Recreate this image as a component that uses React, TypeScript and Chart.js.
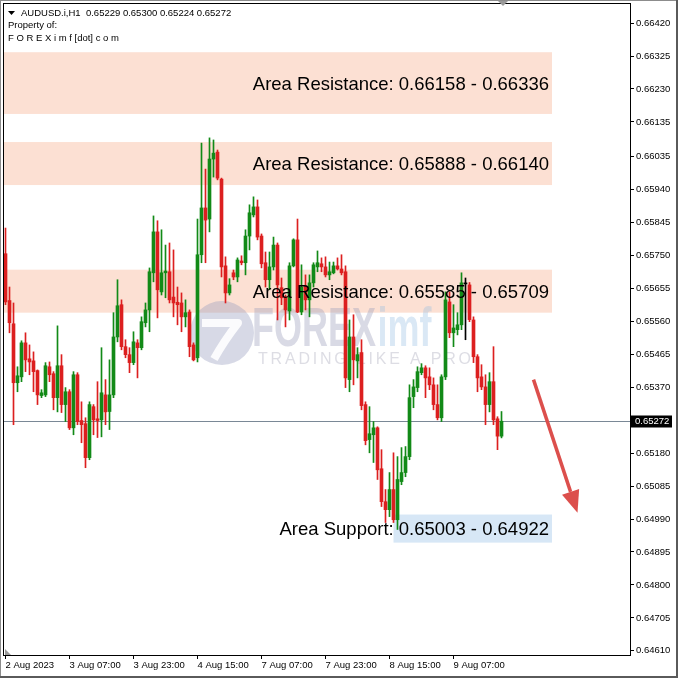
import React, { useEffect, useRef } from "react";
import { Chart, registerables } from "chart.js";

Chart.register(...registerables);

// ---- data (AUDUSD.i, H1) ----
const opens = [
  0.65755, 0.65620, 0.65553, 0.65383, 0.65400, 0.65498, 0.65452, 0.65446, 0.65418, 0.65346,
  0.65348, 0.65429, 0.65409, 0.65340, 0.65432, 0.65320, 0.65357, 0.65253, 0.65406, 0.65274,
  0.65265, 0.65167, 0.65314, 0.65279, 0.65276, 0.65348, 0.65300, 0.65348, 0.65515, 0.65608,
  0.65487, 0.65464, 0.65441, 0.65498, 0.65484, 0.65556, 0.65593, 0.65700, 0.65818, 0.65645,
  0.65700, 0.65703, 0.65630, 0.65615, 0.65613, 0.65573, 0.65587, 0.65492, 0.65455, 0.65752,
  0.65887, 0.65855, 0.66028, 0.66048, 0.65970, 0.65720, 0.65642, 0.65700, 0.65688, 0.65734,
  0.65729, 0.65806, 0.65867, 0.65890, 0.65806, 0.65729, 0.65680, 0.65717, 0.65780, 0.65657,
  0.65631, 0.65590, 0.65720, 0.65795, 0.65587, 0.65662, 0.65622, 0.65671, 0.65717, 0.65726,
  0.65717, 0.65694, 0.65700, 0.65720, 0.65711, 0.65703, 0.65392, 0.65515, 0.65446, 0.65470,
  0.65320, 0.65219, 0.65233, 0.65253, 0.65135, 0.65040, 0.65017, 0.65075, 0.64988, 0.65098,
  0.65124, 0.65170, 0.65343, 0.65369, 0.65412, 0.65426, 0.65400, 0.65377, 0.65320, 0.65282,
  0.65400, 0.65616, 0.65527, 0.65536, 0.65550, 0.65668, 0.65665, 0.65564, 0.65458, 0.65400,
  0.65371, 0.65320, 0.65386, 0.65279, 0.65229,
];
const highs = [
  0.65829, 0.65659, 0.65613, 0.65429, 0.65504, 0.65527, 0.65492, 0.65472, 0.65420, 0.65363,
  0.65441, 0.65443, 0.65415, 0.65547, 0.65464, 0.65369, 0.65363, 0.65415, 0.65412, 0.65328,
  0.65282, 0.65328, 0.65320, 0.65386, 0.65484, 0.65392, 0.65449, 0.65585, 0.65680, 0.65622,
  0.65507, 0.65484, 0.65530, 0.65507, 0.65573, 0.65613, 0.65714, 0.65864, 0.65850, 0.65824,
  0.65780, 0.65786, 0.65766, 0.65659, 0.65642, 0.65622, 0.65593, 0.65498, 0.65855, 0.66074,
  0.65999, 0.66089, 0.66083, 0.66054, 0.65973, 0.65746, 0.65683, 0.65708, 0.65743, 0.65749,
  0.65824, 0.65896, 0.65919, 0.65910, 0.65812, 0.65760, 0.65760, 0.65803, 0.65786, 0.65685,
  0.65636, 0.65729, 0.65798, 0.65855, 0.65723, 0.65694, 0.65694, 0.65729, 0.65763, 0.65743,
  0.65746, 0.65731, 0.65731, 0.65743, 0.65752, 0.65720, 0.65564, 0.65579, 0.65484, 0.65507,
  0.65328, 0.65314, 0.65271, 0.65256, 0.65190, 0.65075, 0.65124, 0.65181, 0.65170, 0.65196,
  0.65199, 0.65377, 0.65392, 0.65429, 0.65438, 0.65432, 0.65426, 0.65397, 0.65377, 0.65406,
  0.65645, 0.65645, 0.65608, 0.65585, 0.65700, 0.65685, 0.65672, 0.65573, 0.65464, 0.65435,
  0.65406, 0.65412, 0.65487, 0.65285, 0.65300,
];
const lows = [
  0.65608, 0.65527, 0.65262, 0.65357, 0.65386, 0.65415, 0.65406, 0.65357, 0.65320, 0.65340,
  0.65343, 0.65386, 0.65305, 0.65299, 0.65297, 0.65271, 0.65248, 0.65233, 0.65262, 0.65210,
  0.65138, 0.65161, 0.65233, 0.65225, 0.65227, 0.65262, 0.65248, 0.65340, 0.65501, 0.65478,
  0.65455, 0.65412, 0.65435, 0.65397, 0.65478, 0.65544, 0.65530, 0.65674, 0.65570, 0.65636,
  0.65628, 0.65613, 0.65573, 0.65550, 0.65530, 0.65544, 0.65458, 0.65446, 0.65443, 0.65729,
  0.65729, 0.65818, 0.65976, 0.65968, 0.65688, 0.65613, 0.65636, 0.65680, 0.65674, 0.65723,
  0.65694, 0.65766, 0.65861, 0.65795, 0.65714, 0.65659, 0.65651, 0.65708, 0.65564, 0.65608,
  0.65544, 0.65564, 0.65717, 0.65585, 0.65579, 0.65593, 0.65573, 0.65659, 0.65703, 0.65703,
  0.65688, 0.65680, 0.65697, 0.65708, 0.65694, 0.65369, 0.65357, 0.65377, 0.65397, 0.65305,
  0.65204, 0.65181, 0.65153, 0.65104, 0.65026, 0.64980, 0.64997, 0.64980, 0.64960, 0.65089,
  0.65112, 0.65161, 0.65311, 0.65357, 0.65406, 0.65340, 0.65363, 0.65305, 0.65276, 0.65271,
  0.65392, 0.65513, 0.65487, 0.65521, 0.65536, 0.65507, 0.65559, 0.65441, 0.65357, 0.65363,
  0.65262, 0.65299, 0.65262, 0.65190, 0.65224,
];
const closes = [
  0.65616, 0.65556, 0.65383, 0.65403, 0.65498, 0.65449, 0.65443, 0.65415, 0.65348, 0.65354,
  0.65432, 0.65406, 0.65340, 0.65432, 0.65320, 0.65357, 0.65253, 0.65406, 0.65271, 0.65262,
  0.65167, 0.65320, 0.65276, 0.65274, 0.65354, 0.65299, 0.65348, 0.65515, 0.65605, 0.65487,
  0.65464, 0.65441, 0.65501, 0.65484, 0.65559, 0.65593, 0.65703, 0.65818, 0.65651, 0.65700,
  0.65705, 0.65622, 0.65613, 0.65608, 0.65573, 0.65585, 0.65487, 0.65449, 0.65752, 0.65887,
  0.65852, 0.66028, 0.66045, 0.65973, 0.65717, 0.65642, 0.65665, 0.65688, 0.65737, 0.65729,
  0.65806, 0.65873, 0.65890, 0.65803, 0.65726, 0.65680, 0.65717, 0.65780, 0.65665, 0.65628,
  0.65593, 0.65720, 0.65795, 0.65587, 0.65659, 0.65622, 0.65671, 0.65723, 0.65729, 0.65717,
  0.65694, 0.65703, 0.65720, 0.65711, 0.65700, 0.65397, 0.65515, 0.65449, 0.65464, 0.65317,
  0.65216, 0.65236, 0.65253, 0.65132, 0.65040, 0.65017, 0.65075, 0.64988, 0.65104, 0.65124,
  0.65170, 0.65340, 0.65371, 0.65415, 0.65426, 0.65397, 0.65377, 0.65320, 0.65282, 0.65400,
  0.65622, 0.65527, 0.65541, 0.65550, 0.65671, 0.65668, 0.65565, 0.65458, 0.65397, 0.65371,
  0.65320, 0.65386, 0.65276, 0.65229, 0.65272,
];

const tickBars = [0, 16, 32, 48, 64, 80, 96, 112];
const tickLabels = [
  "2 Aug 2023", "3 Aug 07:00", "3 Aug 23:00", "4 Aug 15:00",
  "7 Aug 07:00", "7 Aug 23:00", "8 Aug 15:00", "9 Aug 07:00",
];
const priceTicks = [
  0.6642, 0.66325, 0.6623, 0.66135, 0.66035, 0.6594, 0.65845, 0.6575, 0.65655, 0.6556,
  0.65465, 0.6537, 0.6518, 0.65085, 0.6499, 0.64895, 0.648, 0.64705, 0.6461,
];
const lastPrice = 0.65272;

const zoneLow = [0.66158, 0.65953, 0.65585, 0.64922];
const zoneHigh = [0.66336, 0.66077, 0.65709, 0.65003];
const zoneStartBar = [null, null, null, 97];
const zoneEndBar = [136.625, 136.625, 136.625, 136.625];
const zonePrefix = ["Area Resistance: ", "Area Resistance: ", "Area Resistance: ", "Area Support: "];
const zoneText = ["0.66158 - 0.66336", "0.65888 - 0.66140", "0.65585 - 0.65709", "0.65003 - 0.64922"];
const zoneFill = ["#fce0d3", "#fce0d3", "#fce0d3", "#d7e7f6"];

const arrowFrom = { bar: 132, price: 0.65392 };
const arrowTo = { bar: 143, price: 0.65008 };

const headerLines = [
  "AUDUSD.i,H1  0.65229 0.65300 0.65224 0.65272",
  "Property of:",
  "F O R E X i m f [dot] c o m",
];

const FONT = '"Liberation Sans", Arial, sans-serif';
const GREEN = "#128a17";
const RED = "#dc1f1f";
const DOJI = "#000000";

const overlayPlugin = {
  id: "overlay",
  beforeDatasetsDraw(chart: any) {
    const { ctx, chartArea: ca, scales } = chart;
    const x = scales.x, y = scales.y;
    ctx.save();
    ctx.beginPath();
    ctx.rect(ca.left, ca.top, ca.right - ca.left, ca.bottom - ca.top);
    ctx.clip();
    // zones
    zoneLow.forEach((lo, k) => {
      const y1 = y.getPixelForValue(zoneHigh[k]);
      const y2 = y.getPixelForValue(lo);
      const sb = zoneStartBar[k];
      const x1 = sb === null ? ca.left : x.getPixelForValue(sb);
      const x2 = x.getPixelForValue(zoneEndBar[k]);
      ctx.fillStyle = zoneFill[k];
      ctx.fillRect(x1, y1, x2 - x1, y2 - y1);
    });
    // watermark
    const cx = ca.left + 218, cy = ca.top + 329;
    ctx.fillStyle = "rgba(150,155,190,0.38)";
    ctx.beginPath();
    ctx.arc(cx, cy, 32, 0, Math.PI * 2);
    ctx.fill();
    ctx.strokeStyle = "rgba(255,255,255,0.9)";
    ctx.lineWidth = 8;
    ctx.lineJoin = "round";
    ctx.beginPath();
    ctx.moveTo(cx - 20, cy - 10);
    ctx.lineTo(cx + 16, cy - 10);
    ctx.quadraticCurveTo(cx + 2, cy + 8, cx - 8, cy + 26);
    ctx.stroke();
    ctx.save();
    ctx.translate(ca.left + 248, ca.top + 342);
    ctx.scale(0.72, 1.1);
    ctx.font = `bold 50px ${FONT}`;
    ctx.textBaseline = "alphabetic";
    ctx.textAlign = "left";
    ctx.fillStyle = "rgba(160,163,190,0.4)";
    ctx.fillText("FOREX", 0, 0);
    const w = ctx.measureText("FOREX").width;
    ctx.fillStyle = "rgba(150,190,225,0.35)";
    ctx.fillText("imf", w + 2, 0);
    ctx.restore();
    ctx.font = `16px ${FONT}`;
    ctx.fillStyle = "rgba(175,175,190,0.42)";
    (ctx as any).letterSpacing = "2.8px";
    ctx.fillText("TRADING LIKE A PRO", ca.left + 254, ca.top + 360);
    (ctx as any).letterSpacing = "0px";
    // last price line
    const py = Math.round(y.getPixelForValue(lastPrice)) + 0.5;
    ctx.strokeStyle = "#7a8896";
    ctx.lineWidth = 1;
    ctx.beginPath();
    ctx.moveTo(ca.left, py);
    ctx.lineTo(ca.right, py);
    ctx.stroke();
    ctx.restore();
  },
  afterDatasetsDraw(chart: any) {
    const { ctx, chartArea: ca, scales } = chart;
    const x = scales.x, y = scales.y;
    ctx.save();
    // zone labels
    ctx.font = `18.5px ${FONT}`;
    ctx.fillStyle = "#000";
    ctx.textBaseline = "middle";
    ctx.textAlign = "right";
    zoneLow.forEach((lo, k) => {
      const ym = (y.getPixelForValue(zoneHigh[k]) + y.getPixelForValue(lo)) / 2 + 1.5;
      const xr = x.getPixelForValue(zoneEndBar[k]) - 3;
      ctx.fillText(zonePrefix[k] + zoneText[k], xr, ym);
    });
    // arrow
    const x1 = x.getPixelForValue(arrowFrom.bar), y1 = y.getPixelForValue(arrowFrom.price);
    const x2 = x.getPixelForValue(arrowTo.bar), y2 = y.getPixelForValue(arrowTo.price);
    const ang = Math.atan2(y2 - y1, x2 - x1);
    const headLen = 22, headW = 9;
    const bx = x2 - headLen * Math.cos(ang), by = y2 - headLen * Math.sin(ang);
    ctx.strokeStyle = "#dc4f4c";
    ctx.fillStyle = "#dc4f4c";
    ctx.lineWidth = 3.5;
    ctx.beginPath();
    ctx.moveTo(x1, y1);
    ctx.lineTo(bx, by);
    ctx.stroke();
    ctx.beginPath();
    ctx.moveTo(x2, y2);
    ctx.lineTo(bx + headW * Math.sin(ang), by - headW * Math.cos(ang));
    ctx.lineTo(bx - headW * Math.sin(ang), by + headW * Math.cos(ang));
    ctx.closePath();
    ctx.fill();
    // header
    ctx.textAlign = "left";
    ctx.textBaseline = "middle";
    ctx.font = `9.5px ${FONT}`;
    ctx.fillStyle = "#000";
    ctx.beginPath();
    ctx.moveTo(ca.left + 4, ca.top + 7);
    ctx.lineTo(ca.left + 11, ca.top + 7);
    ctx.lineTo(ca.left + 7.5, ca.top + 11);
    ctx.closePath();
    ctx.fill();
    ctx.fillText(headerLines[0], ca.left + 17, ca.top + 9);
    ctx.fillText(headerLines[1], ca.left + 4, ca.top + 21.5);
    ctx.fillText(headerLines[2], ca.left + 4, ca.top + 34);
    ctx.restore();
  },
  afterDraw(chart: any) {
    const { ctx, chartArea: ca, scales, width, height } = chart;
    const y = scales.y;
    ctx.save();
    // plot frame
    ctx.strokeStyle = "#000";
    ctx.lineWidth = 1;
    ctx.strokeRect(ca.left - 0.5, ca.top - 0.5, ca.right - ca.left + 1, ca.bottom - ca.top + 1);
    // last price label
    const py = Math.round(y.getPixelForValue(lastPrice)) + 0.5;
    ctx.fillStyle = "#000";
    ctx.fillRect(ca.right + 1, py - 6, 41, 12);
    ctx.fillStyle = "#fff";
    ctx.font = `9.5px ${FONT}`;
    ctx.textBaseline = "middle";
    ctx.textAlign = "left";
    ctx.fillText(lastPrice.toFixed(5), ca.right + 5, py);
    // shift markers
    ctx.fillStyle = "#9a9a9a";
    ctx.beginPath();
    ctx.moveTo(497, 0);
    ctx.lineTo(509, 0);
    ctx.lineTo(503, 6);
    ctx.closePath();
    ctx.fill();
    ctx.beginPath();
    ctx.moveTo(ca.left + 1, ca.bottom - 6);
    ctx.lineTo(ca.left + 1, ca.bottom);
    ctx.lineTo(ca.left + 7, ca.bottom);
    ctx.closePath();
    ctx.fill();
    // window frame
    ctx.strokeStyle = "#8c8c8c";
    ctx.strokeRect(0.5, 0.5, width - 1, height - 1);
    ctx.strokeStyle = "#5a5a5a";
    ctx.lineWidth = 2;
    ctx.beginPath();
    ctx.moveTo(0, height - 1);
    ctx.lineTo(width, height - 1);
    ctx.moveTo(width - 1, 0);
    ctx.lineTo(width - 1, height);
    ctx.stroke();
    ctx.restore();
  },
};

export default function App() {
  const ref = useRef<HTMLCanvasElement>(null);
  useEffect(() => {
    document.body.style.margin = "0";
    const canvas = ref.current!;
    const idx = opens.map((_, i) => i);
    const colorOf = (i: number) =>
      closes[i] > opens[i] ? GREEN : closes[i] < opens[i] ? RED : DOJI;
    const chart = new Chart(canvas, {
      type: "bar",
      data: {
        datasets: [
          {
            label: "body",
            data: idx.map((i) => ({ x: i, y: [opens[i], closes[i]] })) as any,
            backgroundColor: idx.map(colorOf),
            barThickness: 3,
            grouped: false,
            minBarLength: 1,
            borderWidth: 0,
          },
          {
            label: "wick",
            data: idx.map((i) => ({ x: i, y: [lows[i], highs[i]] })) as any,
            backgroundColor: idx.map(colorOf),
            barThickness: 1,
            grouped: false,
            borderWidth: 0,
          },
        ],
      },
      options: {
        animation: false,
        responsive: false,
        devicePixelRatio: 1,
        layout: { padding: { left: 4, top: 4, right: 0, bottom: 0 } },
        plugins: { legend: { display: false }, tooltip: { enabled: false } },
        scales: {
          x: {
            type: "linear",
            offset: false,
            min: -0.375,
            max: 156.125,
            afterBuildTicks: (s: any) => {
              s.ticks = tickBars.map((v) => ({ value: v }));
            },
            afterFit: (s: any) => {
              s.height = 23;
              s.paddingLeft = 0;
              s.paddingRight = 0;
            },
            ticks: {
              callback: (v: any) => {
                const k = tickBars.indexOf(Number(v));
                return k >= 0 ? tickLabels[k] : "";
              },
              align: "start",
              maxRotation: 0,
              minRotation: 0,
              autoSkip: false,
              font: { family: FONT, size: 9.5 },
              color: "#000",
              padding: 1,
            },
            grid: { offset: false, drawOnChartArea: false, drawTicks: true, tickLength: 4, tickColor: "#000" },
            border: { color: "#000" },
          },
          y: {
            type: "linear",
            position: "right",
            min: 0.64598,
            max: 0.66475,
            afterBuildTicks: (s: any) => {
              s.ticks = priceTicks.map((v) => ({ value: v }));
            },
            afterFit: (s: any) => {
              s.width = 48;
              s.paddingTop = 0;
              s.paddingBottom = 0;
            },
            ticks: {
              callback: (v: any) => Number(v).toFixed(5),
              font: { family: FONT, size: 9.5 },
              color: "#000",
              padding: 2,
              autoSkip: false,
            },
            grid: { drawOnChartArea: false, drawTicks: true, tickLength: 4, tickColor: "#000" },
            border: { color: "#000" },
          },
        },
      } as any,
      plugins: [overlayPlugin],
    });
    return () => chart.destroy();
  }, []);
  return (
    <canvas
      ref={ref}
      width={678}
      height={678}
      style={{ display: "block", width: 678, height: 678 }}
    />
  );
}
